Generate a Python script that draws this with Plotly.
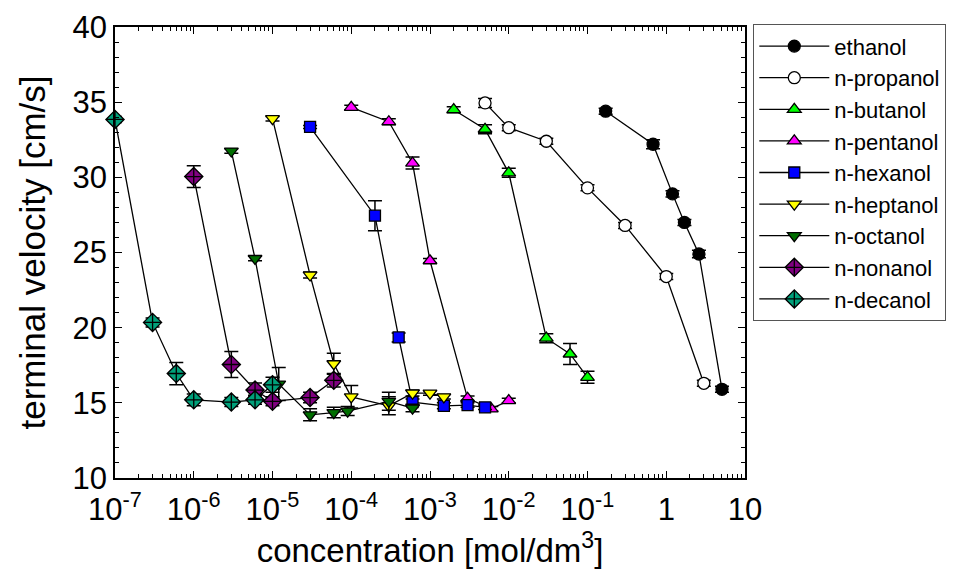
import plotly.graph_objects as go

# ---------------- data ----------------
series_names = ["ethanol", "n-propanol", "n-butanol", "n-pentanol", "n-hexanol",
                "n-heptanol", "n-octanol", "n-nonanol", "n-decanol"]

ethanol_x = [0.17, 0.68, 1.2, 1.7, 2.6, 5.1]
ethanol_y = [34.4, 32.2, 28.9, 27.0, 24.9, 15.9]
ethanol_e = [0.2, 0.3, 0.2, 0.2, 0.25, 0.2]

propanol_x = [0.005, 0.01, 0.03, 0.1, 0.3, 1.0, 3.0]
propanol_y = [34.95, 33.3, 32.4, 29.3, 26.8, 23.4, 16.3]
propanol_e = [0.3, 0.2, 0.2, 0.2, 0.2, 0.2, 0.2]

butanol_x = [0.002, 0.005, 0.01, 0.03, 0.06, 0.1]
butanol_y = [34.5, 33.2, 30.3, 19.3, 18.25, 16.7]
butanol_e = [0.2, 0.3, 0.3, 0.3, 0.7, 0.4]

pentanol_x = [1e-4, 3e-4, 6e-4, 1e-3, 3e-3, 6e-3, 1e-2]
pentanol_y = [34.65, 33.7, 30.95, 24.45, 15.3, 14.6, 15.15]
pentanol_e = [0.15, 0.2, 0.4, 0.15, 0.15, 0.15, 0.15]

hexanol_x = [3e-5, 2e-4, 4e-4, 6e-4, 1.5e-3, 3e-3, 5e-3]
hexanol_y = [33.35, 27.45, 19.35, 15.05, 14.8, 14.85, 14.7]
hexanol_e = [0.1, 1.0, 0.3, 0.2, 0.2, 0.15, 0.15]

heptanol_x = [1e-5, 3e-5, 6e-5, 1e-4, 3e-4, 6e-4, 1e-3, 1.5e-3]
heptanol_y = [33.9, 23.5, 17.6, 15.4, 14.8, 15.65, 15.65, 15.4]
heptanol_e = [0.15, 0.2, 0.7, 0.75, 0.6, 0.2, 0.15, 0.15]

octanol_x = [3e-6, 6e-6, 1.2e-5, 3e-5, 6e-5, 9e-5, 3e-4, 6e-4]
octanol_y = [31.75, 24.6, 16.25, 14.2, 14.35, 14.45, 15.1, 14.65]
octanol_e = [0.15, 0.15, 1.1, 0.4, 0.35, 0.3, 0.6, 0.25]

nonanol_x = [1e-6, 3e-6, 6e-6, 1e-5, 3e-5, 6e-5]
nonanol_y = [30.05, 17.55, 15.85, 15.1, 15.35, 16.5]
nonanol_e = [0.72, 0.87, 0.47, 0.3, 0.35, 0.45]

decanol_x = [1e-7, 3e-7, 6e-7, 1e-6, 3e-6, 6e-6, 1e-5]
decanol_y = [33.85, 20.35, 16.95, 15.2, 15.05, 15.2, 16.2]
decanol_e = [0.2, 0.3, 0.74, 0.39, 0.3, 0.3, 0.5]

x_tickvals = [1e-7, 1e-6, 1e-5, 1e-4, 1e-3, 1e-2, 1e-1, 1, 10]
x_ticktext = ["10<sup>-7</sup>", "10<sup>-6</sup>", "10<sup>-5</sup>", "10<sup>-4</sup>",
              "10<sup>-3</sup>", "10<sup>-2</sup>", "10<sup>-1</sup>", "1", "10"]
y_tickvals = [10, 15, 20, 25, 30, 35, 40]

# ---------------- styles ----------------
xs = [ethanol_x, propanol_x, butanol_x, pentanol_x, hexanol_x,
      heptanol_x, octanol_x, nonanol_x, decanol_x]
ys = [ethanol_y, propanol_y, butanol_y, pentanol_y, hexanol_y,
      heptanol_y, octanol_y, nonanol_y, decanol_y]
es = [ethanol_e, propanol_e, butanol_e, pentanol_e, hexanol_e,
      heptanol_e, octanol_e, nonanol_e, decanol_e]
colors = ["#000000", "#ffffff", "#00ff00", "#ff00ff", "#0000ff",
          "#ffff00", "#006e00", "#800080", "#00a07a"]
symbols = ["circle", "circle", "triangle-up", "triangle-up", "square",
           "triangle-down", "triangle-down", "diamond-cross", "diamond-cross"]
sizes = [12, 12, 12, 12, 11, 12, 12, 14, 14]

fig = go.Figure()
for name, x, y, e, c, s, sz in zip(series_names, xs, ys, es, colors, symbols, sizes):
    fig.add_trace(go.Scatter(
        x=x, y=y, name=name, mode="lines+markers", cliponaxis=False,
        line=dict(color="black", width=1.3),
        marker=dict(symbol=s, size=sz, color=c, line=dict(color="black", width=1.3)),
        error_y=dict(type="data", array=e, visible=True, color="black",
                     thickness=1.5, width=7),
    ))

font_family = "Liberation Sans, Arial, sans-serif"
# the page body has an 8px margin, so the figure is made 8px smaller and offset
fig.update_layout(
    width=947, height=561,
    margin=dict(l=107, r=210, t=19, b=91, autoexpand=False),
    paper_bgcolor="white", plot_bgcolor="white",
    font=dict(family=font_family, color="black", size=28),
    showlegend=True,
    legend=dict(
        x=1.0127, y=1.0066, xanchor="left", yanchor="top",
        bordercolor="#555555", borderwidth=1.3, bgcolor="white",
        font=dict(size=22, family=font_family, color="black"),
        itemwidth=70, tracegroupgap=0, maxheight=560,
    ),
)
fig.update_xaxes(
    type="log", range=[-7, 1], automargin=False,
    tickvals=x_tickvals, ticktext=x_ticktext,
    ticks="inside", ticklen=7, tickwidth=1.3, tickcolor="black",
    showline=True, linecolor="black", linewidth=1.5, mirror="ticks",
    showgrid=False, zeroline=False,
    tickfont=dict(size=31), ticklabelstandoff=3,
    minor=dict(ticks="inside", ticklen=4, tickwidth=1, tickcolor="black",
               dtick="D1", showgrid=False),
    title=dict(text="concentration [mol/dm<sup>3</sup>]", font=dict(size=33), standoff=0),
)
fig.update_yaxes(
    range=[10, 40], tickvals=y_tickvals, automargin=False,
    ticks="inside", ticklen=7, tickwidth=1.3, tickcolor="black",
    showline=True, linecolor="black", linewidth=1.5, mirror="ticks",
    showgrid=False, zeroline=False,
    tickfont=dict(size=31),
    minor=dict(ticks="inside", ticklen=4, tickwidth=1, tickcolor="black",
               dtick=1, showgrid=False),
    title=dict(text="terminal velocity [cm/s]", font=dict(size=35), standoff=16),
)

fig.write_html("out.html")
